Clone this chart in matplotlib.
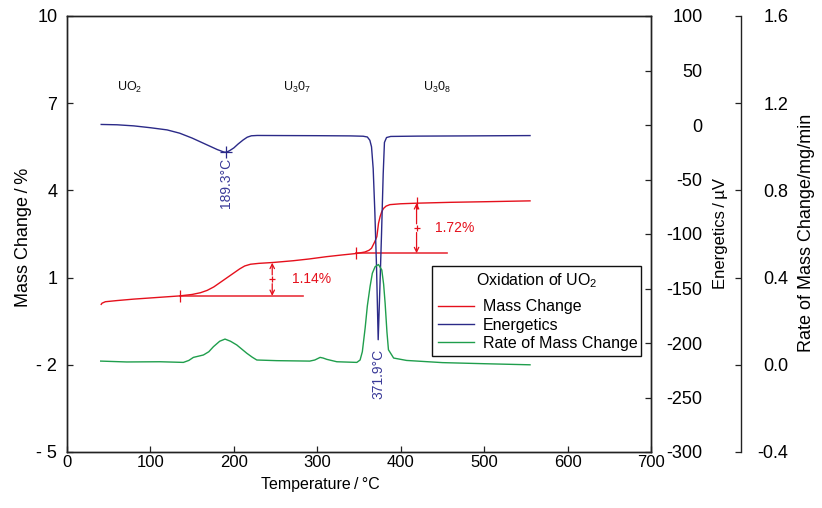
import matplotlib
matplotlib.use("Agg")
import matplotlib.pyplot as plt

plt.rcParams['font.family'] = ['Liberation Sans', 'DejaVu Sans']
plt.rcParams['mathtext.fontset'] = 'custom'
plt.rcParams['mathtext.rm'] = 'Liberation Sans'
plt.rcParams['mathtext.it'] = 'Liberation Sans'

# ---------------- data ----------------
temp_mass = [41, 42, 46, 60, 80, 100, 120, 135, 150, 160, 168, 176, 184, 192, 200,
             207, 213, 220, 230, 247, 271, 290, 311, 330, 347, 357, 362, 365, 369,
             371.4, 373.4, 375.3, 377.3, 379.4, 382.5, 387, 400, 419, 460, 500, 555]
mass_change = [0.08, 0.12, 0.17, 0.21, 0.26, 0.30, 0.34, 0.37, 0.42, 0.48, 0.56, 0.68,
               0.84, 1.00, 1.16, 1.30, 1.40, 1.46, 1.49, 1.52, 1.58, 1.64, 1.72, 1.78,
               1.83, 1.88, 1.94, 2.01, 2.24, 2.41, 2.87, 3.10, 3.27, 3.38, 3.46, 3.51,
               3.54, 3.56, 3.59, 3.61, 3.64]

temp_energy = [41, 60, 80, 100, 120, 135, 150, 160, 170, 180, 188, 191, 195, 200, 205,
               211, 216, 221, 228, 260, 300, 340, 355, 360, 363, 365, 367, 369, 371,
               373, 375, 377, 379, 380.5, 383, 388, 420, 480, 555]
energetics = [0.5, 0.2, -0.8, -2.5, -4.5, -7.5, -12, -15.5, -19, -22.5, -24.8, -25,
              -23.5, -21, -17.5, -13.8, -11.2, -9.9, -9.6, -9.7, -9.8, -10.0, -10.3,
              -11, -14, -20, -40, -80, -130, -197, -150, -100, -45, -16, -11.5, -10.5,
              -10.2, -10.0, -9.7]

temp_rate = [40.4, 71.6, 111.5, 139.5, 146, 151.5, 163.5, 170, 175.5, 183, 189.4, 196,
             203.5, 215.5, 222, 227.5, 251.4, 291, 297, 303.4, 307, 311.4, 323.4, 347.4,
             351.3, 354, 357.4, 360, 363.3, 366, 369.3, 373.3, 377.3, 379.5, 381.3,
             383.5, 385.3, 391.5, 407, 450, 500, 555]
rate = [0.017, 0.013, 0.014, 0.011, 0.020, 0.034, 0.045, 0.060, 0.083, 0.108, 0.118,
        0.108, 0.091, 0.053, 0.035, 0.022, 0.019, 0.017, 0.022, 0.034, 0.031, 0.025,
        0.014, 0.011, 0.022, 0.060, 0.170, 0.270, 0.360, 0.420, 0.450, 0.460, 0.435,
        0.370, 0.283, 0.150, 0.069, 0.031, 0.020, 0.010, 0.005, 0.000]

mass_ticks = [-5, -2, 1, 4, 7, 10]
mass_ticklabels = ['- 5', '- 2', '1', '4', '7', '10']
energy_ticks = [-300, -250, -200, -150, -100, -50, 0, 50, 100]
energy_ticklabels = ['-300', '-250', '-200', '-150', '-100', '-50', '0', '50', '100']
rate_ticks = [-0.4, 0.0, 0.4, 0.8, 1.2, 1.6]
rate_ticklabels = ['-0.4', '0.0', '0.4', '0.8', '1.2', '1.6']
temp_ticks = [0, 100, 200, 300, 400, 500, 600, 700]

phase_labels = [r'UO$_2$', r'U$_3$0$_7$', r'U$_3$0$_8$']
phase_x = [75, 275, 443]
phase_y = 7.55

peak_temps = [191, 373]
peak_vals = [-25, -197]
peak_texts = ['189.3°C', '371.9°C']
peak_text_y = [-30.5, -205]

step_start = [135, 347]
step_end = [283, 455]
step_base = [0.37, 1.84]
step_top = [1.51, 3.56]
step_arrow_x = [246, 419]
step_texts = ['1.14%', '1.72%']
step_text_x = [270, 441]

# ---------------- styling ----------------
RED = '#e5101c'
BLUE = '#2b2a88'
GREEN = '#1f9e4c'
SPINE = '#222222'
FS = 11.5
YFS = 13

fig = plt.figure(figsize=(8.22, 5.08), dpi=100)
ax = fig.add_axes([67/822, 56/508, 584/822, 436/508])
ax2 = ax.twinx()
ax3 = ax.twinx()

for a in (ax, ax2, ax3):
    for s in a.spines.values():
        s.set_color(SPINE)
        s.set_linewidth(1.0)

ax.set_xlim(0, 700)
ax.set_ylim(-5, 10)
ax.set_xticks(temp_ticks)
ax.set_xticklabels([str(t) for t in temp_ticks])
ax.set_yticks(mass_ticks)
ax.set_yticklabels(mass_ticklabels)
ax.tick_params(axis='both', direction='in', length=4, width=0.9, color=SPINE)
ax.tick_params(axis='x', pad=2.5, labelsize=12)
ax.tick_params(axis='y', pad=7, labelsize=YFS)

ax2.set_ylim(-300, 100)
ax2.set_yticks(energy_ticks)
ax2.set_yticklabels(energy_ticklabels)
ax2.tick_params(axis='y', direction='in', length=4, width=0.9, color=SPINE,
                labelsize=YFS, pad=37)
for lab in ax2.get_yticklabels():
    lab.set_horizontalalignment('right')

ax3.set_ylim(-0.4, 1.6)
ax3.spines['right'].set_position(('outward', 64.8))
for side in ('top', 'bottom', 'left'):
    ax3.spines[side].set_visible(False)
ax3.set_yticks(rate_ticks)
ax3.set_yticklabels(rate_ticklabels)
ax3.tick_params(axis='y', direction='in', length=4, width=0.9, color=SPINE,
                labelsize=YFS, pad=34)
for lab in ax3.get_yticklabels():
    lab.set_horizontalalignment('right')

# ---------------- curves ----------------
l1, = ax.plot(temp_mass, mass_change, color=RED, lw=1.0, label='Mass Change')
l2, = ax2.plot(temp_energy, energetics, color=BLUE, lw=1.0, label='Energetics')
l3, = ax3.plot(temp_rate, rate, color=GREEN, lw=1.0, label='Rate of Mass Change')

# phase labels
for lab, x in zip(phase_labels, phase_x):
    ax.text(x, phase_y, lab, ha='center', va='center', fontsize=9, color='#111111')

# peak annotations
ax2.plot(peak_temps[:1], peak_vals[:1], ls='none', marker='+', ms=8, mew=0.9, color=BLUE)
for x, y, t in zip(peak_temps, peak_text_y, peak_texts):
    ax2.text(x, y, t, rotation=90, ha='center', va='top', fontsize=10, color='#3a3a98')

# step annotations
for xs, xe, yb, yt, xa, t, xt in zip(step_start, step_end, step_base, step_top,
                                      step_arrow_x, step_texts, step_text_x):
    ax.plot([xs, xe], [yb, yb], color=RED, lw=1.2, alpha=0.85)
    ax.plot([xs], [yb], ls='none', marker='|', ms=9, mew=0.9, color=RED)
    ym = (yb + yt) / 2
    gap = 0.15
    ax.annotate('', xy=(xa, yt), xytext=(xa, ym + gap),
                arrowprops=dict(arrowstyle='->', color=RED, lw=0.9,
                                shrinkA=0, shrinkB=0, mutation_scale=8))
    ax.annotate('', xy=(xa, yb), xytext=(xa, ym - gap),
                arrowprops=dict(arrowstyle='->', color=RED, lw=0.9,
                                shrinkA=0, shrinkB=0, mutation_scale=8))
    ax.plot([xa], [ym], ls='none', marker='+', ms=5, mew=0.9, color=RED)
    ax.text(xt, ym, t, ha='left', va='center', fontsize=10, color=RED)

ax.plot([step_arrow_x[1]], [step_top[1]], ls='none', marker='|', ms=9, mew=0.9, color=RED)

# legend
leg = ax3.legend(handles=[l1, l2, l3], title=r'Oxidation of UO$_2$',
                 loc='upper left', bbox_to_anchor=(0.625, 0.218, 0.358, 0.2086),
                 mode='expand', fontsize=11.5, title_fontsize=11.5, frameon=True,
                 fancybox=False, shadow=False, borderpad=0.35, labelspacing=0.2,
                 handlelength=2.3, handletextpad=0.55, borderaxespad=0.0)
leg._legend_box.sep = 6.5
leg.get_frame().set_edgecolor('#111111')
leg.get_frame().set_linewidth(1.0)
leg.get_frame().set_alpha(1.0)

# axis labels
fig.text(23/822, 1 - 237/508, 'Mass Change\u2009/\u2009%', rotation=90,
         ha='center', va='center', fontsize=13)
fig.text(720/822, 1 - 233/508, 'Energetics\u2009/\u2009µV', rotation=90,
         ha='center', va='center', fontsize=12)
fig.text(806/822, 1 - 233/508, 'Rate of Mass Change/mg/min', rotation=90,
         ha='center', va='center', fontsize=13)
fig.text(320/822, 1 - 485/508, 'Temperature\u2009/\u2009°C',
         ha='center', va='center', fontsize=FS)

fig.savefig('out.png', dpi=100)
